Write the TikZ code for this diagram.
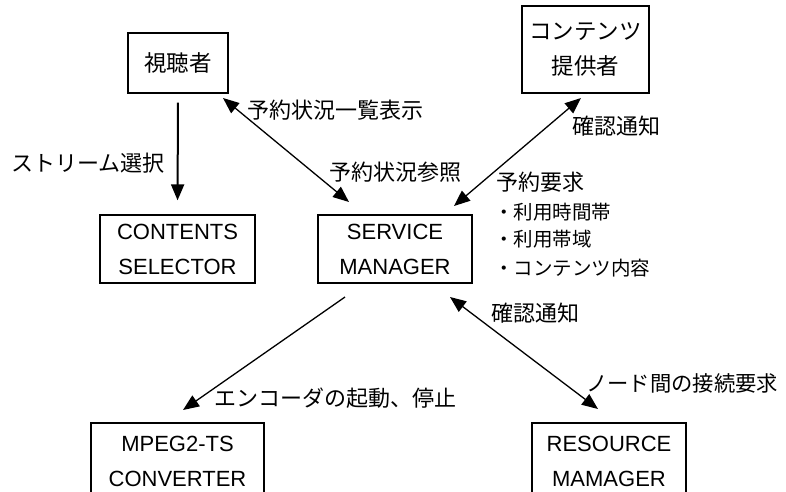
\documentclass[tikz,border=0pt]{standalone}
\usepackage{fontspec}
\setmainfont{Liberation Sans}
\newfontfamily\jp{Noto Sans CJK JP}
\usetikzlibrary{arrows.meta}
\begin{document}
\begin{tikzpicture}[x=1pt,y=-1pt,
  box/.style={draw,line width=1.3pt,inner sep=0pt,align=center,font=\fontsize{22}{35}\selectfont},
  jbox/.style={box,font=\jp\fontsize{22.5}{35}\selectfont},
  lbl/.style={anchor=west,inner sep=0pt,font=\jp\fontsize{22}{26}\selectfont},
  sublbl/.style={anchor=west,inner sep=0pt,font=\jp\fontsize{19.5}{22}\selectfont},
  conn/.style={line width=1.3pt,-{Triangle[length=16pt,width=13pt]}},
  dconn/.style={line width=1.3pt,{Triangle[length=16pt,width=13pt]}-{Triangle[length=16pt,width=13pt]}}]
\useasboundingbox (0,0) rectangle (786,491);
\clip (0,0) rectangle (786,491);
\fill[white] (0,0) rectangle (786,491);

\node[jbox,minimum width=100pt,minimum height=60pt] (v) at (178,63) {視聴者};
\node[jbox,minimum width=127pt,minimum height=87pt] (cp) at (585.5,49.5) {コンテンツ\\提供者};
\node[box,minimum width=155pt,minimum height=68pt] (cs) at (177.5,249) {CONTENTS\\SELECTOR};
\node[box,minimum width=154pt,minimum height=68pt] (sm) at (395,249) {SERVICE\\MANAGER};
\node[box,minimum width=173pt,minimum height=77pt] (mp) at (177.5,461.5) {MPEG2-TS\\CONVERTER};
\node[box,minimum width=154pt,minimum height=77pt] (rm) at (609,461.5) {RESOURCE\\MAMAGER};

\coordinate (a1) at (223,98);
\coordinate (a2) at (349,202);
\coordinate (b1) at (581,98);
\coordinate (b2) at (454,206);
\coordinate (c1) at (345,297);
\coordinate (c2) at (183,410);
\coordinate (d1) at (450,297);
\coordinate (d2) at (598,409);

\draw[conn,line width=2pt,shorten <=9pt,shorten >=14pt] (v.south) -- (cs.north);
\draw[dconn] (a1) -- (a2);
\draw[dconn] (b1) -- (b2);
\draw[conn] (c1) -- (c2);
\draw[dconn] (d1) -- (d2);

\node[lbl] (l1) at (11,163) {ストリーム選択};
\node[lbl] (l2) at (247,110) {予約状況一覧表示};
\node[lbl] (l3) at (329,172) {予約状況参照};
\node[lbl] (l4) at (572,126) {確認通知};
\node[lbl] (l5) at (496,182) {予約要求};
\node[sublbl] (l6) at (494,212) {・利用時間帯};
\node[sublbl] (l7) at (494,239) {・利用帯域};
\node[sublbl] (l8) at (494,268) {・コンテンツ内容};
\node[lbl] (l9) at (491,313) {確認通知};
\node[lbl,font=\jp\fontsize{21.3}{26}\selectfont] (l10) at (586,383) {ノード間の接続要求};
\node[lbl] (l11) at (214,398) {エンコーダの起動、停止};
\end{tikzpicture}
\end{document}
